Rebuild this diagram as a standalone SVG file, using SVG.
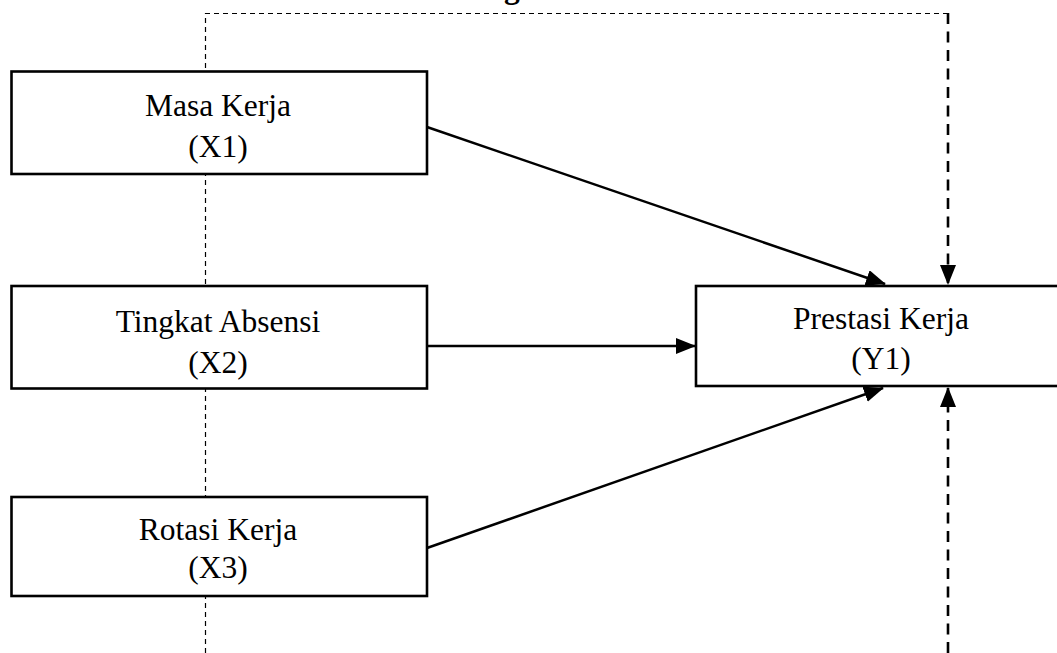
<svg xmlns="http://www.w3.org/2000/svg" width="1057" height="653" viewBox="0 0 1057 653">
  <style>
    .box { fill: #ffffff; stroke: #000000; stroke-width: 2.6; }
    .lbl { font-family: "Liberation Serif", "Times New Roman", serif; font-size: 31.5px; fill: #000000; text-anchor: middle; }
    .solid { fill: none; stroke: #000000; stroke-width: 2.5; }
    .thin-dash { fill: none; stroke: #000000; stroke-width: 1.2; stroke-dasharray: 5 4; }
    .thick-dash { fill: none; stroke: #000000; stroke-width: 2.6; stroke-dasharray: 11 7.5; }
  </style>
  <defs>
    <marker id="arrow" markerUnits="userSpaceOnUse" markerWidth="20" markerHeight="16" viewBox="0 0 20 16" refX="19" refY="8" orient="auto">
      <path d="M0,0 L20,8 L0,16 Z" fill="#000000"/>
    </marker>
  </defs>
  <rect width="1057" height="653" fill="#ffffff"/>

  <text x="504" y="-2" font-family="Liberation Serif, serif" font-weight="bold" font-size="31.5" fill="#000000">g</text>

  <g id="connectors">
    <path class="thin-dash" d="M205.5,653 V13.5 H948"/>
    <path class="thick-dash" d="M948,13 V284" marker-end="url(#arrow)"/>
    <path class="thick-dash" d="M948,653 V388" marker-end="url(#arrow)"/>
    <path class="solid" d="M427,127 L885,284" marker-end="url(#arrow)"/>
    <path class="solid" d="M427,346 L695,346" marker-end="url(#arrow)"/>
    <path class="solid" d="M427,548 L883,388" marker-end="url(#arrow)"/>
  </g>

  <g id="node-x1">
    <rect class="box" x="11.5" y="71.5" width="415.5" height="102.5"/>
    <text class="lbl" x="218" y="116">Masa Kerja</text>
    <text class="lbl" x="218" y="157">(X1)</text>
  </g>
  <g id="node-x2">
    <rect class="box" x="11.5" y="286" width="415.5" height="102.5"/>
    <text class="lbl" x="218" y="332">Tingkat Absensi</text>
    <text class="lbl" x="218" y="373">(X2)</text>
  </g>
  <g id="node-x3">
    <rect class="box" x="11.5" y="497" width="415.5" height="99"/>
    <text class="lbl" x="218" y="540">Rotasi Kerja</text>
    <text class="lbl" x="218" y="578">(X3)</text>
  </g>
  <g id="node-y1">
    <rect class="box" x="696" y="286" width="380" height="100"/>
    <text class="lbl" x="881" y="329">Prestasi Kerja</text>
    <text class="lbl" x="881" y="369">(Y1)</text>
  </g>
</svg>
